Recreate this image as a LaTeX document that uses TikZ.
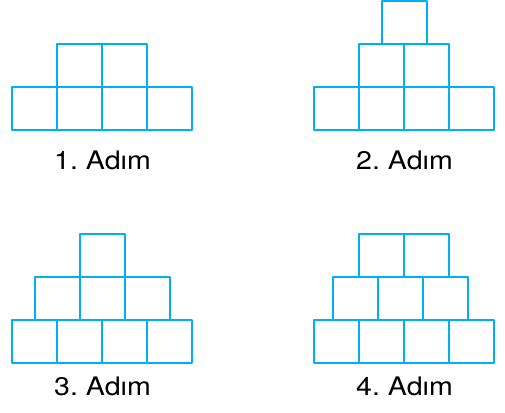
\documentclass[tikz,border=0pt]{standalone}
\usepackage{xcolor}
\usepackage{fontspec}
\setmainfont[FakeStretch=1.12]{TeX Gyre Heros}
\definecolor{mavi}{RGB}{0,176,240}
\begin{document}
\begin{tikzpicture}[line cap=round,line join=round,x=1pt,y=1pt,
	kare/.style={draw=mavi,line width=2pt,minimum width=45pt,minimum height=43pt,inner sep=0pt},
	adim/.style={anchor=base,inner sep=0pt,font=\fontsize{25.5}{30}\selectfont}]
			\useasboundingbox (0,0) rectangle (505,412);
			% 1. adim
			\node[kare] (a11) at (34.2,303.2) {};
			\node[kare] (a12) at (79.2,303.2) {};
			\node[kare] (a13) at (124.2,303.2) {};
			\node[kare] (a14) at (169.2,303.2) {};
			\node[kare] (a21) at (79.2,346.2) {};
			\node[kare] (a22) at (124.2,346.2) {};
			\node[adim] (adim1) at (102.5,242) {1.\ Adım};
			% 2. adim
			\node[kare] (b11) at (336.8,303.2) {};
			\node[kare] (b12) at (381.8,303.2) {};
			\node[kare] (b13) at (426.8,303.2) {};
			\node[kare] (b14) at (471.8,303.2) {};
			\node[kare] (b21) at (381.8,346.2) {};
			\node[kare] (b22) at (426.8,346.2) {};
			\node[kare] (b31) at (404.3,389.2) {};
			\node[adim] (adim2) at (404.5,242) {2.\ Adım};
			% 3. adim
			\node[kare] (c11) at (34.2,70.8) {};
			\node[kare] (c12) at (79.2,70.8) {};
			\node[kare] (c13) at (124.2,70.8) {};
			\node[kare] (c14) at (169.2,70.8) {};
			\node[kare] (c21) at (57,113.8) {};
			\node[kare] (c22) at (102,113.8) {};
			\node[kare] (c23) at (147,113.8) {};
			\node[kare] (c31) at (102.3,156.8) {};
			\node[adim] (adim3) at (102.5,16.3) {3.\ Adım};
			% 4. adim
			\node[kare] (d11) at (336.8,70.8) {};
			\node[kare] (d12) at (381.8,70.8) {};
			\node[kare] (d13) at (426.8,70.8) {};
			\node[kare] (d14) at (471.8,70.8) {};
			\node[kare] (d21) at (355.3,113.8) {};
			\node[kare] (d22) at (400.3,113.8) {};
			\node[kare] (d23) at (445.3,113.8) {};
			\node[kare] (d31) at (381.8,156.8) {};
			\node[kare] (d32) at (426.8,156.8) {};
			\node[adim] (adim4) at (404.5,16.3) {4.\ Adım};
\end{tikzpicture}
\end{document}
